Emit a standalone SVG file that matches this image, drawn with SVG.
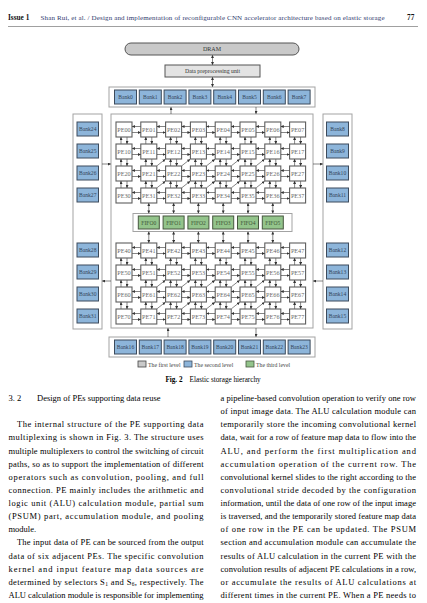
<svg xmlns="http://www.w3.org/2000/svg" width="427" height="603" viewBox="0 0 427 603">
<style>
.t{font-family:"Liberation Serif","Times New Roman",serif}
.bank rect{fill:#8db5da;stroke:#3d4b5c;stroke-width:1}
.bl{font-size:5.6px;fill:#34465a;text-anchor:middle}
.pe rect{fill:#fff;stroke:#5e5e5e;stroke-width:1.1}
.pl{font-size:6.2px;fill:#6a6a6a;text-anchor:middle}
.fifo rect{fill:#93c48b;stroke:#47573f;stroke-width:1}
.fl{font-size:5.6px;fill:#3f5537;text-anchor:middle}
.ar line,line.ar{stroke:#333;stroke-width:0.6;fill:none}
.box{fill:#fff;stroke:#a3a3a3;stroke-width:1}
.body{font-size:8.5px;fill:#000}
.lg{font-size:5.8px;fill:#444}
</style>
<defs>
<marker id="a" viewBox="0 0 6 6" refX="5.5" refY="3" markerWidth="3" markerHeight="3" markerUnits="userSpaceOnUse" orient="auto-start-reverse"><path d="M0,0L6,3L0,6z" fill="#333"/></marker>
<g id="hp" class="ar"><line x1="8.6" y1="4.5" x2="0.2" y2="4.5" marker-end="url(#a)"/><line x1="0.2" y1="10.5" x2="8.6" y2="10.5" marker-end="url(#a)"/></g>
<g id="vp" class="ar"><line x1="5" y1="6.8" x2="5" y2="0.2" marker-end="url(#a)"/><line x1="11" y1="0.2" x2="11" y2="6.8" marker-end="url(#a)"/></g>
<g id="dp" class="ar"><line x1="0.4" y1="6.6" x2="8.4" y2="0.3" marker-end="url(#a)"/></g>
</defs>
<rect width="427" height="603" fill="#fff"/>

<!-- header -->
<g id="header">
<text x="8" y="20" class="t" font-size="7.3" font-weight="bold" fill="#111">Issue 1</text>
<text x="40.5" y="20" class="t" font-size="7" fill="#2f3a6e" textLength="344" lengthAdjust="spacing">Shan Rui, et al. / Design and implementation of reconfigurable CNN accelerator architecture based on elastic storage</text>
<text x="407" y="20" class="t" font-size="7.3" font-weight="bold" fill="#111">77</text>
<line x1="8" y1="26.5" x2="418" y2="26.5" stroke="#888" stroke-width="0.8"/>
</g>

<!-- containers -->
<g id="bankrow-top"><rect class="box" x="109" y="87" width="206" height="20"/></g>
<g id="bankrow-bottom"><rect class="box" x="109" y="337" width="206" height="20"/></g>
<g id="bankcol-left"><rect class="box" x="73" y="114" width="29" height="215"/></g>
<g id="bankcol-right"><rect class="box" x="323" y="114" width="29" height="215"/></g>
<g id="pe-array"><rect class="box" x="111" y="114" width="202" height="214"/></g>
<g id="fifo-row"><rect class="box" x="133" y="213.5" width="159" height="18"/></g>

<g id="dram"><rect x="125" y="43" width="174" height="12" rx="6" fill="#c9c9c9" stroke="#555" stroke-width="1"/><text x="212" y="51.2" class="t" font-size="6" fill="#333" text-anchor="middle">DRAM</text></g>
<g id="dpu"><rect x="165" y="65" width="95" height="12" fill="#e3e3e3" stroke="#555" stroke-width="1"/><text x="212.5" y="73" class="t" font-size="5.8" fill="#333" text-anchor="middle">Data preprocessing unit</text></g>

<!-- banks top -->
<g id="bank0" class="bank"><rect x="114.5" y="90" width="22" height="14"/><text x="125.5" y="99" class="t bl">Bank0</text></g>
<g id="bank1" class="bank"><rect x="139.3" y="90" width="22" height="14"/><text x="150.3" y="99" class="t bl">Bank1</text></g>
<g id="bank2" class="bank"><rect x="164.1" y="90" width="22" height="14"/><text x="175.1" y="99" class="t bl">Bank2</text></g>
<g id="bank3" class="bank"><rect x="188.9" y="90" width="22" height="14"/><text x="199.9" y="99" class="t bl">Bank3</text></g>
<g id="bank4" class="bank"><rect x="213.7" y="90" width="22" height="14"/><text x="224.7" y="99" class="t bl">Bank4</text></g>
<g id="bank5" class="bank"><rect x="238.5" y="90" width="22" height="14"/><text x="249.5" y="99" class="t bl">Bank5</text></g>
<g id="bank6" class="bank"><rect x="263.3" y="90" width="22" height="14"/><text x="274.3" y="99" class="t bl">Bank6</text></g>
<g id="bank7" class="bank"><rect x="288.1" y="90" width="22" height="14"/><text x="299.1" y="99" class="t bl">Bank7</text></g>
<!-- banks bottom -->
<g id="bank16" class="bank"><rect x="114.5" y="340" width="22" height="14"/><text x="125.5" y="349" class="t bl">Bank16</text></g>
<g id="bank17" class="bank"><rect x="139.3" y="340" width="22" height="14"/><text x="150.3" y="349" class="t bl">Bank17</text></g>
<g id="bank18" class="bank"><rect x="164.1" y="340" width="22" height="14"/><text x="175.1" y="349" class="t bl">Bank18</text></g>
<g id="bank19" class="bank"><rect x="188.9" y="340" width="22" height="14"/><text x="199.9" y="349" class="t bl">Bank19</text></g>
<g id="bank20" class="bank"><rect x="213.7" y="340" width="22" height="14"/><text x="224.7" y="349" class="t bl">Bank20</text></g>
<g id="bank21" class="bank"><rect x="238.5" y="340" width="22" height="14"/><text x="249.5" y="349" class="t bl">Bank21</text></g>
<g id="bank22" class="bank"><rect x="263.3" y="340" width="22" height="14"/><text x="274.3" y="349" class="t bl">Bank22</text></g>
<g id="bank23" class="bank"><rect x="288.1" y="340" width="22" height="14"/><text x="299.1" y="349" class="t bl">Bank23</text></g>
<!-- banks left -->
<g id="bank24" class="bank"><rect x="77" y="122" width="21.5" height="14"/><text x="87.75" y="131" class="t bl">Bank24</text></g>
<g id="bank25" class="bank"><rect x="77" y="144" width="21.5" height="14"/><text x="87.75" y="153" class="t bl">Bank25</text></g>
<g id="bank26" class="bank"><rect x="77" y="166" width="21.5" height="14"/><text x="87.75" y="175" class="t bl">Bank26</text></g>
<g id="bank27" class="bank"><rect x="77" y="188" width="21.5" height="14"/><text x="87.75" y="197" class="t bl">Bank27</text></g>
<g id="bank28" class="bank"><rect x="77" y="243" width="21.5" height="14"/><text x="87.75" y="252" class="t bl">Bank28</text></g>
<g id="bank29" class="bank"><rect x="77" y="265" width="21.5" height="14"/><text x="87.75" y="274" class="t bl">Bank29</text></g>
<g id="bank30" class="bank"><rect x="77" y="287" width="21.5" height="14"/><text x="87.75" y="296" class="t bl">Bank30</text></g>
<g id="bank31" class="bank"><rect x="77" y="309" width="21.5" height="14"/><text x="87.75" y="318" class="t bl">Bank31</text></g>
<!-- banks right -->
<g id="bank8" class="bank"><rect x="326.5" y="122" width="22" height="14"/><text x="337.5" y="131" class="t bl">Bank8</text></g>
<g id="bank9" class="bank"><rect x="326.5" y="144" width="22" height="14"/><text x="337.5" y="153" class="t bl">Bank9</text></g>
<g id="bank10" class="bank"><rect x="326.5" y="166" width="22" height="14"/><text x="337.5" y="175" class="t bl">Bank10</text></g>
<g id="bank11" class="bank"><rect x="326.5" y="188" width="22" height="14"/><text x="337.5" y="197" class="t bl">Bank11</text></g>
<g id="bank12" class="bank"><rect x="326.5" y="243" width="22" height="14"/><text x="337.5" y="252" class="t bl">Bank12</text></g>
<g id="bank13" class="bank"><rect x="326.5" y="265" width="22" height="14"/><text x="337.5" y="274" class="t bl">Bank13</text></g>
<g id="bank14" class="bank"><rect x="326.5" y="287" width="22" height="14"/><text x="337.5" y="296" class="t bl">Bank14</text></g>
<g id="bank15" class="bank"><rect x="326.5" y="309" width="22" height="14"/><text x="337.5" y="318" class="t bl">Bank15</text></g>

<!-- PEs -->
<g id="pe00" class="pe"><rect x="116" y="122" width="16" height="15"/><text x="124" y="131.7" class="t pl">PE00</text></g>
<g id="pe01" class="pe"><rect x="140.8" y="122" width="16" height="15"/><text x="148.8" y="131.7" class="t pl">PE01</text></g>
<g id="pe02" class="pe"><rect x="165.6" y="122" width="16" height="15"/><text x="173.6" y="131.7" class="t pl">PE02</text></g>
<g id="pe03" class="pe"><rect x="190.4" y="122" width="16" height="15"/><text x="198.4" y="131.7" class="t pl">PE03</text></g>
<g id="pe04" class="pe"><rect x="215.2" y="122" width="16" height="15"/><text x="223.2" y="131.7" class="t pl">PE04</text></g>
<g id="pe05" class="pe"><rect x="240" y="122" width="16" height="15"/><text x="248" y="131.7" class="t pl">PE05</text></g>
<g id="pe06" class="pe"><rect x="264.8" y="122" width="16" height="15"/><text x="272.8" y="131.7" class="t pl">PE06</text></g>
<g id="pe07" class="pe"><rect x="289.6" y="122" width="16" height="15"/><text x="297.6" y="131.7" class="t pl">PE07</text></g>
<g id="pe10" class="pe"><rect x="116" y="144" width="16" height="15"/><text x="124" y="153.7" class="t pl">PE10</text></g>
<g id="pe11" class="pe"><rect x="140.8" y="144" width="16" height="15"/><text x="148.8" y="153.7" class="t pl">PE11</text></g>
<g id="pe12" class="pe"><rect x="165.6" y="144" width="16" height="15"/><text x="173.6" y="153.7" class="t pl">PE12</text></g>
<g id="pe13" class="pe"><rect x="190.4" y="144" width="16" height="15"/><text x="198.4" y="153.7" class="t pl">PE13</text></g>
<g id="pe14" class="pe"><rect x="215.2" y="144" width="16" height="15"/><text x="223.2" y="153.7" class="t pl">PE14</text></g>
<g id="pe15" class="pe"><rect x="240" y="144" width="16" height="15"/><text x="248" y="153.7" class="t pl">PE15</text></g>
<g id="pe16" class="pe"><rect x="264.8" y="144" width="16" height="15"/><text x="272.8" y="153.7" class="t pl">PE16</text></g>
<g id="pe17" class="pe"><rect x="289.6" y="144" width="16" height="15"/><text x="297.6" y="153.7" class="t pl">PE17</text></g>
<g id="pe20" class="pe"><rect x="116" y="166" width="16" height="15"/><text x="124" y="175.7" class="t pl">PE20</text></g>
<g id="pe21" class="pe"><rect x="140.8" y="166" width="16" height="15"/><text x="148.8" y="175.7" class="t pl">PE21</text></g>
<g id="pe22" class="pe"><rect x="165.6" y="166" width="16" height="15"/><text x="173.6" y="175.7" class="t pl">PE22</text></g>
<g id="pe23" class="pe"><rect x="190.4" y="166" width="16" height="15"/><text x="198.4" y="175.7" class="t pl">PE23</text></g>
<g id="pe24" class="pe"><rect x="215.2" y="166" width="16" height="15"/><text x="223.2" y="175.7" class="t pl">PE24</text></g>
<g id="pe25" class="pe"><rect x="240" y="166" width="16" height="15"/><text x="248" y="175.7" class="t pl">PE25</text></g>
<g id="pe26" class="pe"><rect x="264.8" y="166" width="16" height="15"/><text x="272.8" y="175.7" class="t pl">PE26</text></g>
<g id="pe27" class="pe"><rect x="289.6" y="166" width="16" height="15"/><text x="297.6" y="175.7" class="t pl">PE27</text></g>
<g id="pe30" class="pe"><rect x="116" y="188" width="16" height="15"/><text x="124" y="197.7" class="t pl">PE30</text></g>
<g id="pe31" class="pe"><rect x="140.8" y="188" width="16" height="15"/><text x="148.8" y="197.7" class="t pl">PE31</text></g>
<g id="pe32" class="pe"><rect x="165.6" y="188" width="16" height="15"/><text x="173.6" y="197.7" class="t pl">PE32</text></g>
<g id="pe33" class="pe"><rect x="190.4" y="188" width="16" height="15"/><text x="198.4" y="197.7" class="t pl">PE33</text></g>
<g id="pe34" class="pe"><rect x="215.2" y="188" width="16" height="15"/><text x="223.2" y="197.7" class="t pl">PE34</text></g>
<g id="pe35" class="pe"><rect x="240" y="188" width="16" height="15"/><text x="248" y="197.7" class="t pl">PE35</text></g>
<g id="pe36" class="pe"><rect x="264.8" y="188" width="16" height="15"/><text x="272.8" y="197.7" class="t pl">PE36</text></g>
<g id="pe37" class="pe"><rect x="289.6" y="188" width="16" height="15"/><text x="297.6" y="197.7" class="t pl">PE37</text></g>
<g id="pe40" class="pe"><rect x="116" y="243" width="16" height="15"/><text x="124" y="252.7" class="t pl">PE40</text></g>
<g id="pe41" class="pe"><rect x="140.8" y="243" width="16" height="15"/><text x="148.8" y="252.7" class="t pl">PE41</text></g>
<g id="pe42" class="pe"><rect x="165.6" y="243" width="16" height="15"/><text x="173.6" y="252.7" class="t pl">PE42</text></g>
<g id="pe43" class="pe"><rect x="190.4" y="243" width="16" height="15"/><text x="198.4" y="252.7" class="t pl">PE43</text></g>
<g id="pe44" class="pe"><rect x="215.2" y="243" width="16" height="15"/><text x="223.2" y="252.7" class="t pl">PE44</text></g>
<g id="pe45" class="pe"><rect x="240" y="243" width="16" height="15"/><text x="248" y="252.7" class="t pl">PE45</text></g>
<g id="pe46" class="pe"><rect x="264.8" y="243" width="16" height="15"/><text x="272.8" y="252.7" class="t pl">PE46</text></g>
<g id="pe47" class="pe"><rect x="289.6" y="243" width="16" height="15"/><text x="297.6" y="252.7" class="t pl">PE47</text></g>
<g id="pe50" class="pe"><rect x="116" y="265" width="16" height="15"/><text x="124" y="274.7" class="t pl">PE50</text></g>
<g id="pe51" class="pe"><rect x="140.8" y="265" width="16" height="15"/><text x="148.8" y="274.7" class="t pl">PE51</text></g>
<g id="pe52" class="pe"><rect x="165.6" y="265" width="16" height="15"/><text x="173.6" y="274.7" class="t pl">PE52</text></g>
<g id="pe53" class="pe"><rect x="190.4" y="265" width="16" height="15"/><text x="198.4" y="274.7" class="t pl">PE53</text></g>
<g id="pe54" class="pe"><rect x="215.2" y="265" width="16" height="15"/><text x="223.2" y="274.7" class="t pl">PE54</text></g>
<g id="pe55" class="pe"><rect x="240" y="265" width="16" height="15"/><text x="248" y="274.7" class="t pl">PE55</text></g>
<g id="pe56" class="pe"><rect x="264.8" y="265" width="16" height="15"/><text x="272.8" y="274.7" class="t pl">PE56</text></g>
<g id="pe57" class="pe"><rect x="289.6" y="265" width="16" height="15"/><text x="297.6" y="274.7" class="t pl">PE57</text></g>
<g id="pe60" class="pe"><rect x="116" y="287" width="16" height="15"/><text x="124" y="296.7" class="t pl">PE60</text></g>
<g id="pe61" class="pe"><rect x="140.8" y="287" width="16" height="15"/><text x="148.8" y="296.7" class="t pl">PE61</text></g>
<g id="pe62" class="pe"><rect x="165.6" y="287" width="16" height="15"/><text x="173.6" y="296.7" class="t pl">PE62</text></g>
<g id="pe63" class="pe"><rect x="190.4" y="287" width="16" height="15"/><text x="198.4" y="296.7" class="t pl">PE63</text></g>
<g id="pe64" class="pe"><rect x="215.2" y="287" width="16" height="15"/><text x="223.2" y="296.7" class="t pl">PE64</text></g>
<g id="pe65" class="pe"><rect x="240" y="287" width="16" height="15"/><text x="248" y="296.7" class="t pl">PE65</text></g>
<g id="pe66" class="pe"><rect x="264.8" y="287" width="16" height="15"/><text x="272.8" y="296.7" class="t pl">PE66</text></g>
<g id="pe67" class="pe"><rect x="289.6" y="287" width="16" height="15"/><text x="297.6" y="296.7" class="t pl">PE67</text></g>
<g id="pe70" class="pe"><rect x="116" y="309" width="16" height="15"/><text x="124" y="318.7" class="t pl">PE70</text></g>
<g id="pe71" class="pe"><rect x="140.8" y="309" width="16" height="15"/><text x="148.8" y="318.7" class="t pl">PE71</text></g>
<g id="pe72" class="pe"><rect x="165.6" y="309" width="16" height="15"/><text x="173.6" y="318.7" class="t pl">PE72</text></g>
<g id="pe73" class="pe"><rect x="190.4" y="309" width="16" height="15"/><text x="198.4" y="318.7" class="t pl">PE73</text></g>
<g id="pe74" class="pe"><rect x="215.2" y="309" width="16" height="15"/><text x="223.2" y="318.7" class="t pl">PE74</text></g>
<g id="pe75" class="pe"><rect x="240" y="309" width="16" height="15"/><text x="248" y="318.7" class="t pl">PE75</text></g>
<g id="pe76" class="pe"><rect x="264.8" y="309" width="16" height="15"/><text x="272.8" y="318.7" class="t pl">PE76</text></g>
<g id="pe77" class="pe"><rect x="289.6" y="309" width="16" height="15"/><text x="297.6" y="318.7" class="t pl">PE77</text></g>

<!-- FIFOs -->
<g id="fifo0" class="fifo"><rect x="138.3" y="216" width="21" height="13"/><text x="148.8" y="224.6" class="t fl">FIFO0</text></g>
<g id="fifo1" class="fifo"><rect x="163.1" y="216" width="21" height="13"/><text x="173.6" y="224.6" class="t fl">FIFO1</text></g>
<g id="fifo2" class="fifo"><rect x="187.9" y="216" width="21" height="13"/><text x="198.4" y="224.6" class="t fl">FIFO2</text></g>
<g id="fifo3" class="fifo"><rect x="212.7" y="216" width="21" height="13"/><text x="223.2" y="224.6" class="t fl">FIFO3</text></g>
<g id="fifo4" class="fifo"><rect x="237.5" y="216" width="21" height="13"/><text x="248" y="224.6" class="t fl">FIFO4</text></g>
<g id="fifo5" class="fifo"><rect x="262.3" y="216" width="21" height="13"/><text x="272.8" y="224.6" class="t fl">FIFO5</text></g>

<!-- connectors -->
<g id="connectors" class="ar">
<line x1="212.5" y1="55.3" x2="212.5" y2="64.7" marker-start="url(#a)" marker-end="url(#a)"/>
<line x1="212.5" y1="77.3" x2="212.5" y2="86.7" marker-start="url(#a)" marker-end="url(#a)"/>
<line x1="171" y1="114" x2="171" y2="107.3" marker-end="url(#a)"/>
<line x1="256" y1="107" x2="256" y2="113.7" marker-end="url(#a)"/>
<line x1="168" y1="337" x2="168" y2="328.3" marker-end="url(#a)"/>
<line x1="256" y1="328" x2="256" y2="336.7" marker-end="url(#a)"/>
<line x1="102" y1="164" x2="110.7" y2="164" marker-end="url(#a)"/>
<line x1="111" y1="281" x2="102.3" y2="281" marker-end="url(#a)"/>
<line x1="313" y1="164" x2="322.7" y2="164" marker-end="url(#a)"/>
<line x1="323" y1="281" x2="313.3" y2="281" marker-end="url(#a)"/>
<line x1="148.8" y1="203.3" x2="148.8" y2="213.2" marker-start="url(#a)" marker-end="url(#a)"/>
<line x1="173.6" y1="203.3" x2="173.6" y2="213.2" marker-start="url(#a)" marker-end="url(#a)"/>
<line x1="198.4" y1="203.3" x2="198.4" y2="213.2" marker-start="url(#a)" marker-end="url(#a)"/>
<line x1="223.2" y1="203.3" x2="223.2" y2="213.2" marker-start="url(#a)" marker-end="url(#a)"/>
<line x1="248" y1="203.3" x2="248" y2="213.2" marker-start="url(#a)" marker-end="url(#a)"/>
<line x1="272.8" y1="203.3" x2="272.8" y2="213.2" marker-start="url(#a)" marker-end="url(#a)"/>
<line x1="148.8" y1="231.8" x2="148.8" y2="242.7" marker-start="url(#a)" marker-end="url(#a)"/>
<line x1="173.6" y1="231.8" x2="173.6" y2="242.7" marker-start="url(#a)" marker-end="url(#a)"/>
<line x1="198.4" y1="231.8" x2="198.4" y2="242.7" marker-start="url(#a)" marker-end="url(#a)"/>
<line x1="223.2" y1="231.8" x2="223.2" y2="242.7" marker-start="url(#a)" marker-end="url(#a)"/>
<line x1="248" y1="231.8" x2="248" y2="242.7" marker-start="url(#a)" marker-end="url(#a)"/>
<line x1="272.8" y1="231.8" x2="272.8" y2="242.7" marker-start="url(#a)" marker-end="url(#a)"/>
<!-- horizontal PE pairs -->
<use href="#hp" x="132" y="122"/><use href="#hp" x="156.8" y="122"/><use href="#hp" x="181.6" y="122"/><use href="#hp" x="206.4" y="122"/><use href="#hp" x="231.2" y="122"/><use href="#hp" x="256" y="122"/><use href="#hp" x="280.8" y="122"/>
<use href="#hp" x="132" y="144"/><use href="#hp" x="156.8" y="144"/><use href="#hp" x="181.6" y="144"/><use href="#hp" x="206.4" y="144"/><use href="#hp" x="231.2" y="144"/><use href="#hp" x="256" y="144"/><use href="#hp" x="280.8" y="144"/>
<use href="#hp" x="132" y="166"/><use href="#hp" x="156.8" y="166"/><use href="#hp" x="181.6" y="166"/><use href="#hp" x="206.4" y="166"/><use href="#hp" x="231.2" y="166"/><use href="#hp" x="256" y="166"/><use href="#hp" x="280.8" y="166"/>
<use href="#hp" x="132" y="188"/><use href="#hp" x="156.8" y="188"/><use href="#hp" x="181.6" y="188"/><use href="#hp" x="206.4" y="188"/><use href="#hp" x="231.2" y="188"/><use href="#hp" x="256" y="188"/><use href="#hp" x="280.8" y="188"/>
<use href="#hp" x="132" y="243"/><use href="#hp" x="156.8" y="243"/><use href="#hp" x="181.6" y="243"/><use href="#hp" x="206.4" y="243"/><use href="#hp" x="231.2" y="243"/><use href="#hp" x="256" y="243"/><use href="#hp" x="280.8" y="243"/>
<use href="#hp" x="132" y="265"/><use href="#hp" x="156.8" y="265"/><use href="#hp" x="181.6" y="265"/><use href="#hp" x="206.4" y="265"/><use href="#hp" x="231.2" y="265"/><use href="#hp" x="256" y="265"/><use href="#hp" x="280.8" y="265"/>
<use href="#hp" x="132" y="287"/><use href="#hp" x="156.8" y="287"/><use href="#hp" x="181.6" y="287"/><use href="#hp" x="206.4" y="287"/><use href="#hp" x="231.2" y="287"/><use href="#hp" x="256" y="287"/><use href="#hp" x="280.8" y="287"/>
<use href="#hp" x="132" y="309"/><use href="#hp" x="156.8" y="309"/><use href="#hp" x="181.6" y="309"/><use href="#hp" x="206.4" y="309"/><use href="#hp" x="231.2" y="309"/><use href="#hp" x="256" y="309"/><use href="#hp" x="280.8" y="309"/>
<!-- vertical PE pairs -->
<use href="#vp" x="116" y="137"/><use href="#vp" x="140.8" y="137"/><use href="#vp" x="165.6" y="137"/><use href="#vp" x="190.4" y="137"/><use href="#vp" x="215.2" y="137"/><use href="#vp" x="240" y="137"/><use href="#vp" x="264.8" y="137"/><use href="#vp" x="289.6" y="137"/>
<use href="#vp" x="116" y="159"/><use href="#vp" x="140.8" y="159"/><use href="#vp" x="165.6" y="159"/><use href="#vp" x="190.4" y="159"/><use href="#vp" x="215.2" y="159"/><use href="#vp" x="240" y="159"/><use href="#vp" x="264.8" y="159"/><use href="#vp" x="289.6" y="159"/>
<use href="#vp" x="116" y="181"/><use href="#vp" x="140.8" y="181"/><use href="#vp" x="165.6" y="181"/><use href="#vp" x="190.4" y="181"/><use href="#vp" x="215.2" y="181"/><use href="#vp" x="240" y="181"/><use href="#vp" x="264.8" y="181"/><use href="#vp" x="289.6" y="181"/>
<use href="#vp" x="116" y="258"/><use href="#vp" x="140.8" y="258"/><use href="#vp" x="165.6" y="258"/><use href="#vp" x="190.4" y="258"/><use href="#vp" x="215.2" y="258"/><use href="#vp" x="240" y="258"/><use href="#vp" x="264.8" y="258"/><use href="#vp" x="289.6" y="258"/>
<use href="#vp" x="116" y="280"/><use href="#vp" x="140.8" y="280"/><use href="#vp" x="165.6" y="280"/><use href="#vp" x="190.4" y="280"/><use href="#vp" x="215.2" y="280"/><use href="#vp" x="240" y="280"/><use href="#vp" x="264.8" y="280"/><use href="#vp" x="289.6" y="280"/>
<use href="#vp" x="116" y="302"/><use href="#vp" x="140.8" y="302"/><use href="#vp" x="165.6" y="302"/><use href="#vp" x="190.4" y="302"/><use href="#vp" x="215.2" y="302"/><use href="#vp" x="240" y="302"/><use href="#vp" x="264.8" y="302"/><use href="#vp" x="289.6" y="302"/>
<!-- diagonals -->
<use href="#dp" x="156.8" y="159"/><use href="#dp" x="181.6" y="159"/><use href="#dp" x="206.4" y="159"/><use href="#dp" x="231.2" y="159"/><use href="#dp" x="256" y="159"/>
<use href="#dp" x="156.8" y="181"/><use href="#dp" x="181.6" y="181"/><use href="#dp" x="206.4" y="181"/><use href="#dp" x="231.2" y="181"/><use href="#dp" x="256" y="181"/>
<use href="#dp" x="156.8" y="280"/><use href="#dp" x="181.6" y="280"/><use href="#dp" x="206.4" y="280"/><use href="#dp" x="231.2" y="280"/><use href="#dp" x="256" y="280"/>
<use href="#dp" x="156.8" y="302"/><use href="#dp" x="181.6" y="302"/><use href="#dp" x="206.4" y="302"/><use href="#dp" x="231.2" y="302"/><use href="#dp" x="256" y="302"/>
</g>

<!-- legend -->
<g id="legend">
<rect x="138" y="361" width="8" height="6" fill="#c9c9c9" stroke="#444" stroke-width="0.8"/>
<text x="148" y="366.8" class="t lg">The first level</text>
<rect x="184" y="361" width="8" height="6" fill="#8db5da" stroke="#3d4b5c" stroke-width="0.8"/>
<text x="194" y="366.8" class="t lg">The second level</text>
<rect x="246" y="361" width="8" height="6" fill="#93c48b" stroke="#47573f" stroke-width="0.8"/>
<text x="256" y="366.8" class="t lg">The third level</text>
</g>
<g id="caption"><text x="213" y="382" class="t" font-size="7.2" fill="#000" text-anchor="middle"><tspan font-weight="bold">Fig. 2</tspan><tspan dx="7">Elastic storage hierarchy</tspan></text></g>

<!-- body text -->
<g id="body" class="t body">
<text x="8.5" y="401">3. 2</text>
<text x="37" y="401">Design of PEs supporting data reuse</text>
<text x="17" y="427.3" textLength="186.5" lengthAdjust="spacing">The internal structure of the PE supporting data</text>
<text x="8.5" y="440.4" textLength="195" lengthAdjust="spacing">multiplexing is shown in Fig. 3. The structure uses</text>
<text x="8.5" y="453.5" textLength="195" lengthAdjust="spacing">multiple multiplexers to control the switching of circuit</text>
<text x="8.5" y="466.7" textLength="195" lengthAdjust="spacing">paths, so as to support the implementation of different</text>
<text x="8.5" y="479.8" textLength="195" lengthAdjust="spacing">operators such as convolution, pooling, and full</text>
<text x="8.5" y="492.9" textLength="195" lengthAdjust="spacing">connection. PE mainly includes the arithmetic and</text>
<text x="8.5" y="506" textLength="195" lengthAdjust="spacing">logic unit (ALU) calculation module, partial sum</text>
<text x="8.5" y="519.2" textLength="195" lengthAdjust="spacing">(PSUM) part, accumulation module, and pooling</text>
<text x="8.5" y="532.3">module.</text>
<text x="17" y="545.4" textLength="186.5" lengthAdjust="spacing">The input data of PE can be sourced from the output</text>
<text x="8.5" y="558.6" textLength="195" lengthAdjust="spacing">data of six adjacent PEs. The specific convolution</text>
<text x="8.5" y="571.7" textLength="195" lengthAdjust="spacing">kernel and input feature map data sources are</text>
<text x="8.5" y="584.8" textLength="195" lengthAdjust="spacing">determined by selectors S<tspan font-size="5.5" dy="1.6">1</tspan><tspan dy="-1.6"> and S</tspan><tspan font-size="5.5" dy="1.6">6</tspan><tspan dy="-1.6">, respectively. The</tspan></text>
<text x="8.5" y="598" textLength="195" lengthAdjust="spacing">ALU calculation module is responsible for implementing</text>

<text x="220.5" y="401" textLength="195.5" lengthAdjust="spacing">a pipeline-based convolution operation to verify one row</text>
<text x="220.5" y="414.1" textLength="195.5" lengthAdjust="spacing">of input image data. The ALU calculation module can</text>
<text x="220.5" y="427.3" textLength="195.5" lengthAdjust="spacing">temporarily store the incoming convolutional kernel</text>
<text x="220.5" y="440.4" textLength="195.5" lengthAdjust="spacing">data, wait for a row of feature map data to flow into the</text>
<text x="220.5" y="453.5" textLength="195.5" lengthAdjust="spacing">ALU, and perform the first multiplication and</text>
<text x="220.5" y="466.7" textLength="195.5" lengthAdjust="spacing">accumulation operation of the current row. The</text>
<text x="220.5" y="479.8" textLength="195.5" lengthAdjust="spacing">convolutional kernel slides to the right according to the</text>
<text x="220.5" y="492.9" textLength="195.5" lengthAdjust="spacing">convolutional stride decoded by the configuration</text>
<text x="220.5" y="506" textLength="195.5" lengthAdjust="spacing">information, until the data of one row of the input image</text>
<text x="220.5" y="519.2" textLength="195.5" lengthAdjust="spacing">is traversed, and the temporarily stored feature map data</text>
<text x="220.5" y="532.3" textLength="195.5" lengthAdjust="spacing">of one row in the PE can be updated. The PSUM</text>
<text x="220.5" y="545.4" textLength="195.5" lengthAdjust="spacing">section and accumulation module can accumulate the</text>
<text x="220.5" y="558.6" textLength="195.5" lengthAdjust="spacing">results of ALU calculation in the current PE with the</text>
<text x="220.5" y="571.7" textLength="195.5" lengthAdjust="spacing">convolution results of adjacent PE calculations in a row,</text>
<text x="220.5" y="584.8" textLength="195.5" lengthAdjust="spacing">or accumulate the results of ALU calculations at</text>
<text x="220.5" y="598" textLength="195.5" lengthAdjust="spacing">different times in the current PE. When a PE needs to</text>
</g>
</svg>
